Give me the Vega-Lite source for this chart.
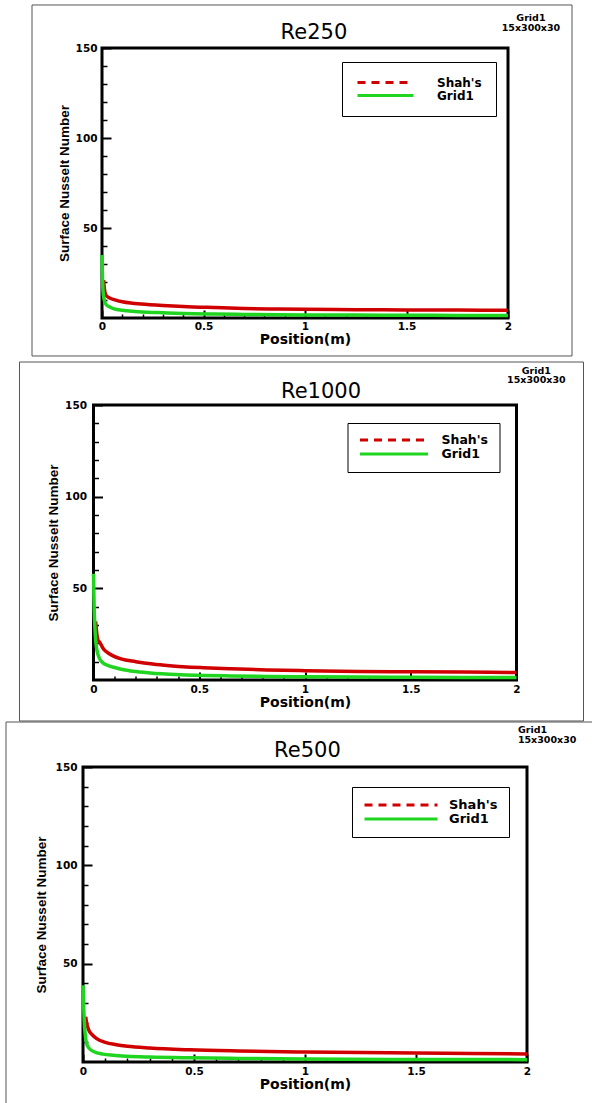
{
  "$schema": "https://vega.github.io/schema/vega-lite/v6.json",
  "background": "white",
  "padding": 0,
  "spacing": 87,
  "bounds": "flush",
  "center": true,
  "resolve": {"scale": {"color": "independent"}, "legend": {"color": "independent"}},
  "config": {
    "font": "DejaVu Sans",
    "view": {"stroke": "black", "strokeWidth": 3},
    "axis": {"grid": false, "domain": false, "tickColor": "black", "labelColor": "black", "titleColor": "black", "labelFont": "DejaVu Sans", "labelFontWeight": "bold", "labelFontSize": 10.5, "labelOverlap": false, "labelFlush": false}
  },
  "vconcat": [
    {
      "width": 406, "height": 270,
      "resolve": {"axis": {"x": "independent", "y": "independent"}},
      "layer": [
        {
          "data": {"values": [{}]},
          "mark": {"type": "rect", "opacity": 0},
          "encoding": {
            "x": {"datum": -0.48276, "type": "quantitative", "scale": {"domain": [0, 2], "nice": false, "zero": false}, "axis": null},
            "x2": {"datum": 0},
            "y": {"datum": 175.556, "type": "quantitative", "scale": {"domain": [0, 150], "nice": false}, "axis": null},
            "y2": {"datum": 150}
          }
        },
        {
          "data": {"values": [{}]},
          "mark": {"type": "rect", "fillOpacity": 0, "stroke": "#555555", "strokeWidth": 1},
          "encoding": {
            "x": {"datum": -0.3448, "type": "quantitative", "scale": {"domain": [0, 2], "nice": false, "zero": false},
              "axis": {"orient": "bottom", "values": [0.1,0.2,0.3,0.4,0.6,0.7,0.8,0.9,1.1,1.2,1.3,1.4,1.6,1.7,1.8,1.9], "labels": false, "tickSize": -4, "tickWidth": 1.5, "title": null}},
            "x2": {"datum": 2.3153},
            "y": {"datum": 173.89, "type": "quantitative", "scale": {"domain": [0, 150], "nice": false},
              "axis": {"orient": "left", "values": [10,20,30,40,60,70,80,90,110,120,130,140], "labels": false, "tickSize": -5, "tickWidth": 1.5, "title": null}},
            "y2": {"datum": -21.11}
          }
        },
        {
          "data": {"values": [
            {"pos": 0.008, "nu": 21, "series": "Shah's"},
            {"pos": 0.012, "nu": 16, "series": "Shah's"},
            {"pos": 0.018, "nu": 13, "series": "Shah's"},
            {"pos": 0.025, "nu": 12, "series": "Shah's"},
            {"pos": 0.04, "nu": 11, "series": "Shah's"},
            {"pos": 0.06, "nu": 10.2, "series": "Shah's"},
            {"pos": 0.1, "nu": 9.0, "series": "Shah's"},
            {"pos": 0.15, "nu": 8.2, "series": "Shah's"},
            {"pos": 0.225, "nu": 7.5, "series": "Shah's"},
            {"pos": 0.3, "nu": 7.0, "series": "Shah's"},
            {"pos": 0.4, "nu": 6.4, "series": "Shah's"},
            {"pos": 0.55, "nu": 5.8, "series": "Shah's"},
            {"pos": 0.7, "nu": 5.3, "series": "Shah's"},
            {"pos": 0.865, "nu": 5.0, "series": "Shah's"},
            {"pos": 1.0, "nu": 4.8, "series": "Shah's"},
            {"pos": 1.25, "nu": 4.6, "series": "Shah's"},
            {"pos": 1.5, "nu": 4.5, "series": "Shah's"},
            {"pos": 1.75, "nu": 4.4, "series": "Shah's"},
            {"pos": 2.0, "nu": 4.3, "series": "Shah's"},
            {"pos": 0.0, "nu": 35, "series": "Grid1"},
            {"pos": 0.002, "nu": 24, "series": "Grid1"},
            {"pos": 0.005, "nu": 15, "series": "Grid1"},
            {"pos": 0.01, "nu": 10.5, "series": "Grid1"},
            {"pos": 0.02, "nu": 7.5, "series": "Grid1"},
            {"pos": 0.04, "nu": 6.0, "series": "Grid1"},
            {"pos": 0.06, "nu": 5.1, "series": "Grid1"},
            {"pos": 0.1, "nu": 4.3, "series": "Grid1"},
            {"pos": 0.15, "nu": 3.7, "series": "Grid1"},
            {"pos": 0.225, "nu": 3.2, "series": "Grid1"},
            {"pos": 0.3, "nu": 2.9, "series": "Grid1"},
            {"pos": 0.4, "nu": 2.5, "series": "Grid1"},
            {"pos": 0.55, "nu": 2.2, "series": "Grid1"},
            {"pos": 0.7, "nu": 2.0, "series": "Grid1"},
            {"pos": 0.865, "nu": 1.8, "series": "Grid1"},
            {"pos": 1.0, "nu": 1.7, "series": "Grid1"},
            {"pos": 1.25, "nu": 1.6, "series": "Grid1"},
            {"pos": 1.5, "nu": 1.5, "series": "Grid1"},
            {"pos": 1.75, "nu": 1.45, "series": "Grid1"},
            {"pos": 2.0, "nu": 1.4, "series": "Grid1"}
          ]},
          "mark": {"type": "line", "strokeWidth": 3.5, "interpolate": "monotone"},
          "encoding": {
            "x": {"field": "pos", "type": "quantitative", "scale": {"domain": [0, 2], "nice": false, "zero": false},
              "axis": {"orient": "bottom", "values": [0, 0.5, 1, 1.5, 2], "format": "~g", "tickSize": -8, "tickWidth": 2, "labelPadding": 11, "title": "Position(m)", "titleFont": "DejaVu Sans", "titleFontWeight": "bold", "titleFontSize": 14, "titlePadding": 1}},
            "y": {"field": "nu", "type": "quantitative", "scale": {"domain": [0, 150], "nice": false},
              "axis": {"orient": "left", "values": [50, 100, 150], "tickSize": -9, "tickWidth": 2, "labelPadding": 14, "title": "Surface Nusselt Number", "titleFont": "Liberation Sans", "titleFontWeight": "bold", "titleFontSize": 13.5, "titlePadding": 4}},
            "color": {"field": "series", "type": "nominal", "sort": null,
              "scale": {"domain": ["Shah's", "Grid1"], "range": ["#d00000", "#1fd51f"]},
              "legend": {"title": null, "orient": "none", "legendX": 240, "legendY": 14, "symbolType": "stroke", "symbolSize": 3136, "symbolStrokeWidth": 3, "clipHeight": 13, "padding": 14, "rowPadding": 0, "labelOffset": 22, "labelFont": "DejaVu Sans", "labelFontWeight": "bold", "labelFontSize": 12, "labelColor": "black", "strokeColor": "black", "fillColor": "white",
                "encode": {"symbols": {"update": {"strokeDash": {"signal": "datum.value == \"Shah's\" ? [8,6] : [1,0]"}}}}}},
            "detail": {"field": "series"}
          }
        },
        {
          "data": {"values": [{}]},
          "mark": {"type": "text", "font": "DejaVu Sans", "fontWeight": "normal", "fontSize": 21, "align": "center", "baseline": "alphabetic", "color": "black"},
          "encoding": {
            "x": {"datum": 1.044, "type": "quantitative", "scale": {"domain": [0, 2], "nice": false, "zero": false}, "axis": null},
            "y": {"datum": 155, "type": "quantitative", "scale": {"domain": [0, 150], "nice": false}, "axis": null},
            "text": {"value": "Re250"}
          }
        },
        {
          "data": {"values": [{}]},
          "mark": {"type": "text", "font": "DejaVu Sans", "fontWeight": "bold", "fontSize": 9.5, "align": "center", "baseline": "top", "lineHeight": 9.5, "color": "black"},
          "encoding": {
            "x": {"datum": 2.113, "type": "quantitative", "scale": {"domain": [0, 2], "nice": false, "zero": false}, "axis": null},
            "y": {"datum": 169.4, "type": "quantitative", "scale": {"domain": [0, 150], "nice": false}, "axis": null},
            "text": {"value": ["Grid1", "15x300x30"]}
          }
        }
      ]
    },
    {
      "width": 423, "height": 275,
      "resolve": {"axis": {"x": "independent", "y": "independent"}},
      "layer": [
        {
          "data": {"values": [{}]},
          "mark": {"type": "rect", "opacity": 0},
          "encoding": {
            "x": {"datum": -0.42553, "type": "quantitative", "scale": {"domain": [0, 2], "nice": false, "zero": false}, "axis": null},
            "x2": {"datum": 0},
            "y": {"datum": 150, "type": "quantitative", "scale": {"domain": [0, 150], "nice": false}, "axis": null},
            "y2": {"datum": 140}
          }
        },
        {
          "data": {"values": [{}]},
          "mark": {"type": "rect", "fillOpacity": 0, "stroke": "#555555", "strokeWidth": 1},
          "encoding": {
            "x": {"datum": -0.3499, "type": "quantitative", "scale": {"domain": [0, 2], "nice": false, "zero": false},
              "axis": {"orient": "bottom", "values": [0.1,0.2,0.3,0.4,0.6,0.7,0.8,0.9,1.1,1.2,1.3,1.4,1.6,1.7,1.8,1.9], "labels": false, "tickSize": -4, "tickWidth": 1.5, "title": null}},
            "x2": {"datum": 2.3168},
            "y": {"datum": 173.45, "type": "quantitative", "scale": {"domain": [0, 150], "nice": false},
              "axis": {"orient": "left", "values": [10,20,30,40,60,70,80,90,110,120,130,140], "labels": false, "tickSize": -5, "tickWidth": 1.5, "title": null}},
            "y2": {"datum": -22.36}
          }
        },
        {
          "data": {"values": [
            {"pos": 0.01, "nu": 32, "series": "Shah's"},
            {"pos": 0.015, "nu": 26, "series": "Shah's"},
            {"pos": 0.022, "nu": 21.5, "series": "Shah's"},
            {"pos": 0.03, "nu": 20.5, "series": "Shah's"},
            {"pos": 0.044, "nu": 17.5, "series": "Shah's"},
            {"pos": 0.06, "nu": 15.5, "series": "Shah's"},
            {"pos": 0.09, "nu": 13.3, "series": "Shah's"},
            {"pos": 0.13, "nu": 11.5, "series": "Shah's"},
            {"pos": 0.2, "nu": 10.0, "series": "Shah's"},
            {"pos": 0.28, "nu": 8.7, "series": "Shah's"},
            {"pos": 0.36, "nu": 7.8, "series": "Shah's"},
            {"pos": 0.52, "nu": 6.7, "series": "Shah's"},
            {"pos": 0.65, "nu": 6.1, "series": "Shah's"},
            {"pos": 0.82, "nu": 5.5, "series": "Shah's"},
            {"pos": 1.0, "nu": 5.1, "series": "Shah's"},
            {"pos": 1.25, "nu": 4.7, "series": "Shah's"},
            {"pos": 1.5, "nu": 4.5, "series": "Shah's"},
            {"pos": 1.75, "nu": 4.3, "series": "Shah's"},
            {"pos": 2.0, "nu": 4.1, "series": "Shah's"},
            {"pos": 0.0, "nu": 58, "series": "Grid1"},
            {"pos": 0.003, "nu": 40, "series": "Grid1"},
            {"pos": 0.006, "nu": 30, "series": "Grid1"},
            {"pos": 0.01, "nu": 22, "series": "Grid1"},
            {"pos": 0.015, "nu": 17, "series": "Grid1"},
            {"pos": 0.028, "nu": 11.8, "series": "Grid1"},
            {"pos": 0.045, "nu": 9.3, "series": "Grid1"},
            {"pos": 0.06, "nu": 8.3, "series": "Grid1"},
            {"pos": 0.09, "nu": 7.1, "series": "Grid1"},
            {"pos": 0.13, "nu": 5.9, "series": "Grid1"},
            {"pos": 0.2, "nu": 4.6, "series": "Grid1"},
            {"pos": 0.28, "nu": 3.7, "series": "Grid1"},
            {"pos": 0.36, "nu": 3.2, "series": "Grid1"},
            {"pos": 0.52, "nu": 2.5, "series": "Grid1"},
            {"pos": 0.65, "nu": 2.2, "series": "Grid1"},
            {"pos": 0.82, "nu": 1.9, "series": "Grid1"},
            {"pos": 1.0, "nu": 1.75, "series": "Grid1"},
            {"pos": 1.25, "nu": 1.6, "series": "Grid1"},
            {"pos": 1.5, "nu": 1.5, "series": "Grid1"},
            {"pos": 1.75, "nu": 1.4, "series": "Grid1"},
            {"pos": 2.0, "nu": 1.3, "series": "Grid1"}
          ]},
          "mark": {"type": "line", "strokeWidth": 3.5, "interpolate": "monotone"},
          "encoding": {
            "x": {"field": "pos", "type": "quantitative", "scale": {"domain": [0, 2], "nice": false, "zero": false},
              "axis": {"orient": "bottom", "values": [0, 0.5, 1, 1.5, 2], "format": "~g", "tickSize": -8, "tickWidth": 2, "labelPadding": 12, "title": "Position(m)", "titleFont": "DejaVu Sans", "titleFontWeight": "bold", "titleFontSize": 14, "titlePadding": 1}},
            "y": {"field": "nu", "type": "quantitative", "scale": {"domain": [0, 150], "nice": false},
              "axis": {"orient": "left", "values": [50, 100, 150], "tickSize": -9, "tickWidth": 2, "labelPadding": 16, "title": "Surface Nusselt Number", "titleFont": "Liberation Sans", "titleFontWeight": "bold", "titleFontSize": 13.5, "titlePadding": 4}},
            "color": {"field": "series", "type": "nominal", "sort": null,
              "scale": {"domain": ["Shah's", "Grid1"], "range": ["#d00000", "#1fd51f"]},
              "legend": {"title": null, "orient": "none", "legendX": 254, "legendY": 18, "symbolType": "stroke", "symbolSize": 4624, "symbolStrokeWidth": 3, "clipHeight": 12, "padding": 11, "rowPadding": 1, "labelOffset": 12, "labelFont": "DejaVu Sans", "labelFontWeight": "bold", "labelFontSize": 12.5, "labelColor": "black", "strokeColor": "black", "fillColor": "white",
                "encode": {"symbols": {"update": {"strokeDash": {"signal": "datum.value == \"Shah's\" ? [8,6] : [1,0]"}}}}}},
            "detail": {"field": "series"}
          }
        },
        {
          "data": {"values": [{}]},
          "mark": {"type": "text", "font": "DejaVu Sans", "fontWeight": "normal", "fontSize": 21, "align": "center", "baseline": "alphabetic", "color": "black"},
          "encoding": {
            "x": {"datum": 1.0757, "type": "quantitative", "scale": {"domain": [0, 2], "nice": false, "zero": false}, "axis": null},
            "y": {"datum": 153.8, "type": "quantitative", "scale": {"domain": [0, 150], "nice": false}, "axis": null},
            "text": {"value": "Re1000"}
          }
        },
        {
          "data": {"values": [{}]},
          "mark": {"type": "text", "font": "DejaVu Sans", "fontWeight": "bold", "fontSize": 9.5, "align": "center", "baseline": "top", "lineHeight": 9.5, "color": "black"},
          "encoding": {
            "x": {"datum": 2.094, "type": "quantitative", "scale": {"domain": [0, 2], "nice": false, "zero": false}, "axis": null},
            "y": {"datum": 171.3, "type": "quantitative", "scale": {"domain": [0, 150], "nice": false}, "axis": null},
            "text": {"value": ["Grid1", "15x300x30"]}
          }
        }
      ]
    },
    {
      "width": 444, "height": 295,
      "resolve": {"axis": {"x": "independent", "y": "independent"}},
      "layer": [
        {
          "data": {"values": [{}]},
          "mark": {"type": "rect", "opacity": 0},
          "encoding": {
            "x": {"datum": -0.36486, "type": "quantitative", "scale": {"domain": [0, 2], "nice": false, "zero": false}, "axis": null},
            "x2": {"datum": 0},
            "y": {"datum": 150, "type": "quantitative", "scale": {"domain": [0, 150], "nice": false}, "axis": null},
            "y2": {"datum": 140}
          }
        },
        {
          "data": {"values": [{}]},
          "mark": {"type": "rect", "fillOpacity": 0, "stroke": "#555555", "strokeWidth": 1},
          "encoding": {
            "x": {"datum": -0.3468, "type": "quantitative", "scale": {"domain": [0, 2], "nice": false, "zero": false},
              "axis": {"orient": "bottom", "values": [0.1,0.2,0.3,0.4,0.6,0.7,0.8,0.9,1.1,1.2,1.3,1.4,1.6,1.7,1.8,1.9], "labels": false, "tickSize": -4, "tickWidth": 1.5, "title": null}},
            "x2": {"datum": 2.3153},
            "y": {"datum": 172.88, "type": "quantitative", "scale": {"domain": [0, 150], "nice": false},
              "axis": {"orient": "left", "values": [10,20,30,40,60,70,80,90,110,120,130,140], "labels": false, "tickSize": -5, "tickWidth": 1.5, "title": null}},
            "y2": {"datum": -26.44}
          }
        },
        {
          "data": {"values": [
            {"pos": 0.012, "nu": 23, "series": "Shah's"},
            {"pos": 0.018, "nu": 19, "series": "Shah's"},
            {"pos": 0.025, "nu": 16.5, "series": "Shah's"},
            {"pos": 0.04, "nu": 14, "series": "Shah's"},
            {"pos": 0.06, "nu": 12, "series": "Shah's"},
            {"pos": 0.1, "nu": 10, "series": "Shah's"},
            {"pos": 0.15, "nu": 8.8, "series": "Shah's"},
            {"pos": 0.2, "nu": 8.0, "series": "Shah's"},
            {"pos": 0.3, "nu": 7.1, "series": "Shah's"},
            {"pos": 0.48, "nu": 6.2, "series": "Shah's"},
            {"pos": 0.7, "nu": 5.6, "series": "Shah's"},
            {"pos": 1.0, "nu": 5.1, "series": "Shah's"},
            {"pos": 1.25, "nu": 4.8, "series": "Shah's"},
            {"pos": 1.5, "nu": 4.6, "series": "Shah's"},
            {"pos": 1.75, "nu": 4.3, "series": "Shah's"},
            {"pos": 2.0, "nu": 4.1, "series": "Shah's"},
            {"pos": 0.0, "nu": 39, "series": "Grid1"},
            {"pos": 0.003, "nu": 28, "series": "Grid1"},
            {"pos": 0.006, "nu": 20, "series": "Grid1"},
            {"pos": 0.01, "nu": 14, "series": "Grid1"},
            {"pos": 0.015, "nu": 10, "series": "Grid1"},
            {"pos": 0.025, "nu": 7.3, "series": "Grid1"},
            {"pos": 0.05, "nu": 5.2, "series": "Grid1"},
            {"pos": 0.09, "nu": 4.0, "series": "Grid1"},
            {"pos": 0.135, "nu": 3.4, "series": "Grid1"},
            {"pos": 0.2, "nu": 2.9, "series": "Grid1"},
            {"pos": 0.3, "nu": 2.5, "series": "Grid1"},
            {"pos": 0.48, "nu": 2.1, "series": "Grid1"},
            {"pos": 0.7, "nu": 1.8, "series": "Grid1"},
            {"pos": 1.0, "nu": 1.5, "series": "Grid1"},
            {"pos": 1.5, "nu": 1.3, "series": "Grid1"},
            {"pos": 2.0, "nu": 1.2, "series": "Grid1"}
          ]},
          "mark": {"type": "line", "strokeWidth": 3.5, "interpolate": "monotone"},
          "encoding": {
            "x": {"field": "pos", "type": "quantitative", "scale": {"domain": [0, 2], "nice": false, "zero": false},
              "axis": {"orient": "bottom", "values": [0, 0.5, 1, 1.5, 2], "format": "~g", "tickSize": -8, "tickWidth": 2, "labelPadding": 12, "title": "Position(m)", "titleFont": "DejaVu Sans", "titleFontWeight": "bold", "titleFontSize": 14, "titlePadding": 1}},
            "y": {"field": "nu", "type": "quantitative", "scale": {"domain": [0, 150], "nice": false},
              "axis": {"orient": "left", "values": [50, 100, 150], "tickSize": -9, "tickWidth": 2, "labelPadding": 15, "title": "Surface Nusselt Number", "titleFont": "Liberation Sans", "titleFontWeight": "bold", "titleFontSize": 13.5, "titlePadding": 7}},
            "color": {"field": "series", "type": "nominal", "sort": null,
              "scale": {"domain": ["Shah's", "Grid1"], "range": ["#d00000", "#1fd51f"]},
              "legend": {"title": null, "orient": "none", "legendX": 269, "legendY": 20, "symbolType": "stroke", "symbolSize": 5329, "symbolStrokeWidth": 3, "clipHeight": 14, "padding": 11, "rowPadding": 0, "labelOffset": 10, "labelFont": "DejaVu Sans", "labelFontWeight": "bold", "labelFontSize": 13, "labelColor": "black", "strokeColor": "black", "fillColor": "white",
                "encode": {"symbols": {"update": {"strokeDash": {"signal": "datum.value == \"Shah's\" ? [8,6] : [1,0]"}}}}}},
            "detail": {"field": "series"}
          }
        },
        {
          "data": {"values": [{}]},
          "mark": {"type": "text", "font": "DejaVu Sans", "fontWeight": "normal", "fontSize": 21, "align": "center", "baseline": "alphabetic", "color": "black"},
          "encoding": {
            "x": {"datum": 1.011, "type": "quantitative", "scale": {"domain": [0, 2], "nice": false, "zero": false}, "axis": null},
            "y": {"datum": 155.1, "type": "quantitative", "scale": {"domain": [0, 150], "nice": false}, "axis": null},
            "text": {"value": "Re500"}
          }
        },
        {
          "data": {"values": [{}]},
          "mark": {"type": "text", "font": "DejaVu Sans", "fontWeight": "bold", "fontSize": 9.5, "align": "left", "baseline": "top", "lineHeight": 10, "color": "black"},
          "encoding": {
            "x": {"datum": 1.959, "type": "quantitative", "scale": {"domain": [0, 2], "nice": false, "zero": false}, "axis": null},
            "y": {"datum": 171.4, "type": "quantitative", "scale": {"domain": [0, 150], "nice": false}, "axis": null},
            "text": {"value": ["Grid1", "15x300x30"]}
          }
        }
      ]
    }
  ]
}
